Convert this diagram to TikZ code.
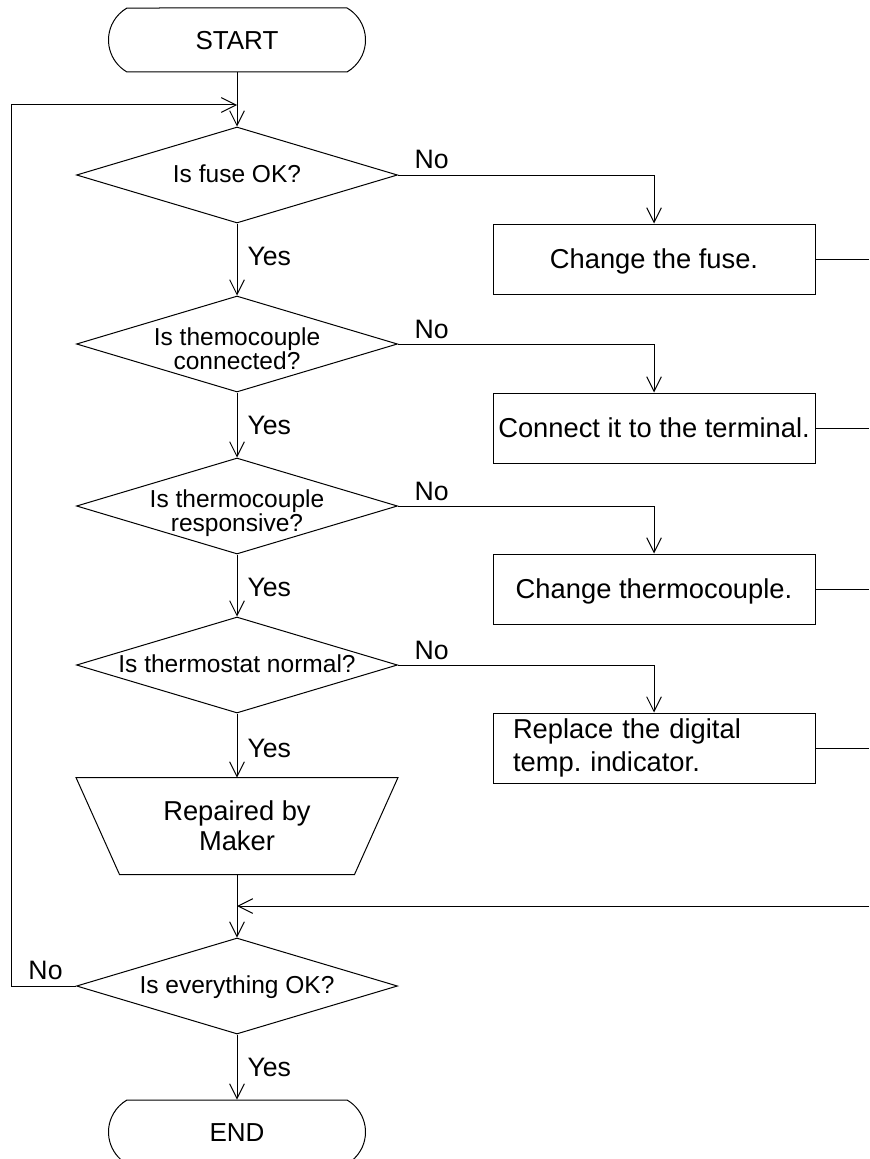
\documentclass[tikz,border=0pt]{standalone}
\usepackage{fontspec}
\setmainfont{Liberation Sans}
\frenchspacing
\usetikzlibrary{shapes.geometric,shapes.misc,arrows.meta,calc}
\newcommand{\dtxt}[1]{\makebox[0pt]{\raisebox{0pt}[10.5pt][0pt]{#1}}}
\newcommand{\dtxtt}[2]{\makebox[0pt]{\raisebox{0pt}[1.5pt][0pt]{\begin{tabular}[t]{@{}c@{}}#1\\#2\end{tabular}}}}
\newcommand{\btxt}[1]{\raisebox{0pt}[14.7pt][0pt]{#1}}
\newcommand{\ttxt}[1]{\raisebox{0pt}[14pt][0pt]{#1}}
\begin{document}
\begin{tikzpicture}[x=0.75pt,y=-0.75pt,line width=0.75pt,
  arr/.style={-{Straight Barb[length=11pt,width=11pt]}},
  term/.style={draw, rounded rectangle, rounded rectangle arc length=120,
    minimum width=192.75pt, minimum height=48pt, inner sep=0pt,
    font=\fontsize{19.5}{23}\selectfont},
  dec/.style={draw, diamond, minimum width=240.75pt, minimum height=72pt,
    inner sep=0pt, font=\fontsize{18.4}{17.25}\selectfont},
  proc/.style={draw, rectangle, minimum width=241.5pt, minimum height=52.5pt,
    inner sep=0pt, font=\fontsize{20.5}{24}\selectfont},
  lbl/.style={inner sep=0pt, anchor=base west, font=\fontsize{20}{24}\selectfont}]
\useasboundingbox (0,0) rectangle (869,1159);

% main column
\node[term] (start) at (237,40) {\ttxt{START}};
\node[dec] (d1) at (237,175) {\dtxt{Is fuse OK?}};
\node[dec] (d2) at (237,344) {\dtxtt{Is themocouple}{connected?}};
\node[dec] (d3) at (237,506) {\dtxtt{Is thermocouple}{responsive?}};
\node[dec] (d4) at (237,665) {\dtxt{Is thermostat normal?}};
\node[minimum width=240.75pt, minimum height=72pt, inner sep=0pt, align=center,
  font=\fontsize{20.5}{22.5}\selectfont] (trap) at (237,826) {Repaired by\\Maker};
\draw (trap.north west) -- (trap.north east) -- ($(trap.south east)+(-43.5,0)$)
  -- ($(trap.south west)+(43.5,0)$) -- cycle;
\node[dec] (d5) at (237,986) {\dtxt{Is everything OK?}};
\node[term] (end) at (237,1132) {\ttxt{END}};

% right column
\node[proc] (b1) at (654,259) {\btxt{Change the fuse.}};
\node[proc] (b2) at (654,428) {\btxt{Connect it to the terminal.}};
\node[proc] (b3) at (654,589) {\btxt{Change thermocouple.}};
\node[proc, text width=211.5pt, inner xsep=15pt, align=left,
  font=\fontsize{20.5}{24.75}\selectfont] (b4) at (654,748)
  {Replace the digital\\temp. indicator.};

% coordinates
\coordinate (j1) at (237,105);
\coordinate (lt) at (11,105);
\coordinate (lb) at (11,986);
\coordinate (rr) at (869,906);
\coordinate (j2) at (237,906);
\coordinate (e1) at (869,259);
\coordinate (e2) at (869,428);
\coordinate (e3) at (869,589);
\coordinate (e4) at (869,748);

% connectors
\draw[arr] (start.south) -- (d1.north);
\draw[arr] (d1.south) -- (d2.north);
\draw[arr] (d2.south) -- (d3.north);
\draw[arr] (d3.south) -- (d4.north);
\draw[arr] (d4.south) -- (trap.north);
\draw[arr] (trap.south) -- (d5.north);
\draw[arr] (d5.south) -- (end.north);
\draw[arr] (d1.east) -| (b1.north);
\draw[arr] (d2.east) -| (b2.north);
\draw[arr] (d3.east) -| (b3.north);
\draw[arr] (d4.east) -| (b4.north);
\draw (b1.east) -- (e1);
\draw (b2.east) -- (e2);
\draw (b3.east) -- (e3);
\draw (b4.east) -- (e4);
\draw[arr] (rr) -- (j2);
\draw[arr] (d5.west) -- (lb) -- (lt) -- (j1);

% labels
\node[lbl] (y1) at ($(d1.south)+(10,42)$) {Yes};
\node[lbl] (y2) at ($(d2.south)+(10,42)$) {Yes};
\node[lbl] (y3) at ($(d3.south)+(10,42)$) {Yes};
\node[lbl] (y4) at ($(d4.south)+(10,44)$) {Yes};
\node[lbl] (y5) at ($(d5.south)+(10,42)$) {Yes};
\node[lbl] (n1) at ($(d1.east)+(16,-6)$) {No};
\node[lbl] (n2) at ($(d2.east)+(16,-6)$) {No};
\node[lbl] (n3) at ($(d3.east)+(16,-6)$) {No};
\node[lbl] (n4) at ($(d4.east)+(16,-6)$) {No};
\node[lbl] (n5) at ($(d5.west)+(-48,-7)$) {No};
\end{tikzpicture}
\end{document}
